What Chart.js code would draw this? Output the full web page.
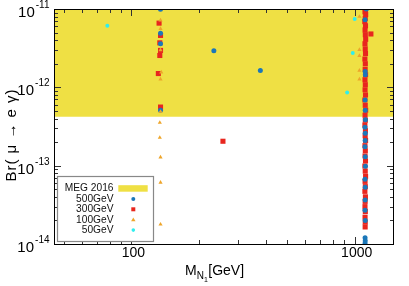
<!DOCTYPE html>
<html>
<head>
<meta charset="utf-8">
<script src="https://cdn.jsdelivr.net/npm/chart.js@4.4.1/dist/chart.umd.min.js"></script>
<style>
  html, body { margin: 0; padding: 0; background: #fff; }
  canvas { display: block; }
</style>
</head>
<body>
<canvas id="brChart" width="409" height="286"></canvas>
<script>
// Br(mu -> e gamma) vs M_N1 scan, MEG 2016 bound shaded

const megLimit = 4.2e-13;
const xRange = [45, 1500];
const yRange = [1e-14, 1e-11];

const xMajorTicks = [100, 1000];
const xMinorTicks = [50, 60, 70, 80, 90, 200, 300, 400, 500, 600, 700, 800, 900];
const yExponents = [-14, -13, -12, -11];
const yMinorMantissa = [2, 3, 4, 5, 6, 7, 8, 9];

const legendLabels = ['MEG 2016', '500GeV', '300GeV', '100GeV', '50GeV'];

// [M_N1 (GeV), Br]
const pts500 = [
  [135, 9.9e-12], [135, 4.9e-12], [135, 3.6e-12], [135, 5.1e-13],
  [234, 2.93e-12], [378, 1.64e-12],
  [1128, 1.0e-11], [1112, 7.3e-12], [1114, 1.59e-12], [1116, 1.45e-12],
  [1113, 6.9e-13], [1115, 5.1e-13], [1117, 3.85e-13], [1112, 3.1e-13],
  [1115, 2.6e-13], [1114, 2.1e-13], [1112, 1.75e-13], [1115, 1.3e-13],
  [1117, 9.8e-14], [1112, 6.7e-14], [1115, 5.3e-14], [1114, 3.65e-14],
  [1112, 2.7e-14], [1115, 2.0e-14], [1113, 1.2e-14], [1115, 1.1e-14],
  [1113, 1.02e-14]
];

const pts300 = [
  [133, 6.6e-12], [135, 4.6e-12], [134, 3.7e-12], [135, 2.96e-12],
  [134, 2.55e-12], [132, 1.5e-12], [135, 5.6e-13],
  [257, 2.05e-13], [1182, 4.8e-12],
  [1118, 9.8e-12], [1112, 9.2e-12], [1120, 8.5e-12], [1115, 7.6e-12],
  [1110, 6.9e-12], [1118, 6.1e-12], [1113, 5.4e-12], [1116, 4.7e-12],
  [1120, 4.1e-12], [1112, 3.6e-12], [1115, 3.1e-12], [1118, 2.7e-12],
  [1111, 2.3e-12], [1116, 2.0e-12], [1114, 1.7e-12], [1119, 1.45e-12],
  [1112, 1.25e-12], [1116, 1.08e-12], [1113, 9.3e-13], [1118, 8.0e-13],
  [1111, 6.9e-13], [1115, 5.9e-13], [1120, 5.1e-13], [1113, 4.4e-13],
  [1116, 3.8e-13], [1111, 3.3e-13], [1117, 2.8e-13], [1114, 2.4e-13],
  [1119, 2.1e-13], [1112, 1.8e-13], [1116, 1.55e-13], [1113, 1.33e-13],
  [1118, 1.15e-13], [1111, 9.9e-14], [1115, 8.5e-14], [1119, 7.3e-14],
  [1113, 6.3e-14], [1116, 5.4e-14], [1111, 4.7e-14], [1117, 4.0e-14],
  [1114, 3.5e-14], [1112, 3.0e-14], [1116, 2.6e-14], [1113, 2.2e-14],
  [1115, 1.9e-14], [1114, 1.65e-14]
];

const pts100 = [
  [135, 7.2e-12], [135, 5.6e-12], [135, 3.0e-12], [136, 1.56e-12],
  [135, 1.27e-12], [135, 4.9e-13], [134, 3.55e-13], [134, 2.28e-13],
  [135, 1.28e-13], [135, 6.1e-14], [135, 1.78e-14],
  [1050, 8.0e-12], [1050, 3.02e-12], [1050, 2.53e-12], [1050, 1.64e-12],
  [1050, 1.27e-12]
];

const pts50 = [
  [78, 6.1e-12], [1000, 7.45e-12], [980, 2.74e-12], [925, 8.6e-13]
];

const colors = {
  meg: '#efe044',
  c500: '#1b77b9',
  c300: '#e8261e',
  c100: '#eea52a',
  c50: '#30eeee'
};

const toXY = arr => arr.map(p => ({ x: p[0], y: p[1] }));

const FONT = '"Liberation Sans", Arial, sans-serif';

// frame, inward ticks, labels, titles and the gnuplot style key
const decorPlugin = {
  id: 'decor',
  afterDatasetsDraw(chart) {
    const ctx = chart.ctx;
    const a = chart.chartArea;
    const xs = chart.scales.x, ys = chart.scales.y;
    ctx.save();

    // ticks
    ctx.strokeStyle = '#333';
    ctx.lineWidth = 1;
    const xt = (v, len) => {
      const px = Math.round(xs.getPixelForValue(v)) + 0.5;
      ctx.beginPath();
      ctx.moveTo(px, a.bottom); ctx.lineTo(px, a.bottom - len);
      ctx.moveTo(px, a.top); ctx.lineTo(px, a.top + len);
      ctx.stroke();
    };
    const yt = (v, len) => {
      const py = Math.round(ys.getPixelForValue(v)) + 0.5;
      ctx.beginPath();
      ctx.moveTo(a.left, py); ctx.lineTo(a.left + len, py);
      ctx.moveTo(a.right, py); ctx.lineTo(a.right - len, py);
      ctx.stroke();
    };
    xMinorTicks.forEach(v => xt(v, 4));
    xMajorTicks.forEach(v => xt(v, 7));
    yExponents.forEach(e => {
      yt(Math.pow(10, e), 7);
      if (e < -11) yMinorMantissa.forEach(m => yt(m * Math.pow(10, e), 4));
    });

    // frame
    ctx.strokeStyle = '#000';
    ctx.strokeRect(a.left + 0.5, a.top + 0.5, a.right - a.left - 1, a.bottom - a.top);

    // x tick labels
    ctx.fillStyle = '#000';
    ctx.font = '14px ' + FONT;
    ctx.textAlign = 'center';
    ctx.textBaseline = 'alphabetic';
    xMajorTicks.forEach(v => {
      ctx.fillText(String(v), xs.getPixelForValue(v) + 2, 257);
    });

    // y tick labels 10^e
    yExponents.forEach(e => {
      const py = ys.getPixelForValue(Math.pow(10, e));
      const sup = '-' + String(-e);
      ctx.font = '10px ' + FONT;
      const ws = ctx.measureText(sup).width;
      ctx.textAlign = 'right';
      ctx.fillText(sup, 49.5, py - 1);
      ctx.font = '15px ' + FONT;
      ctx.fillText('10', 49.5 - ws - 1, py + 8);
    });

    // x title  M_{N_1}[GeV]
    let tx = 185;
    ctx.textAlign = 'left';
    ctx.font = '14px ' + FONT;
    ctx.fillText('M', tx, 275);
    tx += ctx.measureText('M').width;
    ctx.font = '10px ' + FONT;
    ctx.fillText('N', tx, 279);
    tx += ctx.measureText('N').width;
    ctx.font = '7px ' + FONT;
    ctx.fillText('1', tx, 282);
    tx += ctx.measureText('1').width + 0.5;
    ctx.font = '14px ' + FONT;
    ctx.fillText('[GeV]', tx, 275);

    // y title
    ctx.save();
    ctx.translate(16, 135);
    ctx.rotate(-Math.PI / 2);
    ctx.textAlign = 'center';
    ctx.font = '15px ' + FONT;
    ctx.letterSpacing = '1px';
    ctx.fillText('Br( \u03bc \u2192 e \u03b3)', 0, 0);
    ctx.restore();

    // key
    ctx.fillStyle = '#fff';
    ctx.fillRect(57.5, 176.5, 96, 65);
    ctx.strokeStyle = '#888';
    ctx.lineWidth = 1.2;
    ctx.strokeRect(57.5, 176.5, 96, 65);
    ctx.font = '10.2px ' + FONT;
    ctx.textAlign = 'right';
    ctx.textBaseline = 'middle';
    const sx = 133.3;
    legendLabels.forEach((lab, i) => {
      const cy = 188.5 + i * 10.4;
      ctx.fillStyle = '#111';
      ctx.fillText(lab, 113.5, cy);
      if (i === 0) {
        ctx.fillStyle = colors.meg;
        ctx.fillRect(118.3, cy - 3.3, 29.4, 6.5);
      } else if (i === 1) {
        ctx.fillStyle = colors.c500;
        ctx.beginPath(); ctx.arc(sx, cy, 2, 0, Math.PI * 2); ctx.fill();
      } else if (i === 2) {
        ctx.fillStyle = colors.c300;
        ctx.fillRect(sx - 2, cy - 2, 4, 4);
      } else if (i === 3) {
        ctx.fillStyle = colors.c100;
        ctx.beginPath();
        ctx.moveTo(sx, cy - 2.2); ctx.lineTo(sx + 2.2, cy + 1.6); ctx.lineTo(sx - 2.2, cy + 1.6);
        ctx.closePath(); ctx.fill();
      } else {
        ctx.fillStyle = colors.c50;
        ctx.beginPath(); ctx.arc(sx, cy, 1.8, 0, Math.PI * 2); ctx.fill();
      }
    });

    ctx.restore();
  }
};

const scatterSet = (data, color, style, radius, order) => ({
  type: 'scatter',
  data: toXY(data),
  backgroundColor: color,
  borderColor: color,
  borderWidth: 0,
  pointStyle: style,
  pointRadius: radius,
  order: order
});

new Chart(document.getElementById('brChart'), {
  data: {
    datasets: [
      scatterSet(pts500, colors.c500, 'circle', 2.5, 1),
      scatterSet(pts300, colors.c300, 'rect', 3.6, 2),
      scatterSet(pts100, colors.c100, 'triangle', 2.4, 0),
      scatterSet(pts50, colors.c50, 'circle', 2, 0),
      {
        type: 'line',
        data: [{ x: xRange[0], y: megLimit }, { x: xRange[1], y: megLimit }],
        borderWidth: 0,
        borderColor: colors.meg,
        backgroundColor: colors.meg,
        pointRadius: 0,
        fill: 'end',
        order: 10
      }
    ]
  },
  options: {
    responsive: false,
    animation: false,
    events: [],
    layout: { padding: { left: 54, right: 15, top: 9, bottom: 42 } },
    plugins: { legend: { display: false }, tooltip: { enabled: false } },
    scales: {
      x: { type: 'logarithmic', min: xRange[0], max: xRange[1], display: false },
      y: { type: 'logarithmic', min: yRange[0], max: yRange[1], display: false }
    }
  },
  plugins: [decorPlugin]
});
</script>
</body>
</html>
